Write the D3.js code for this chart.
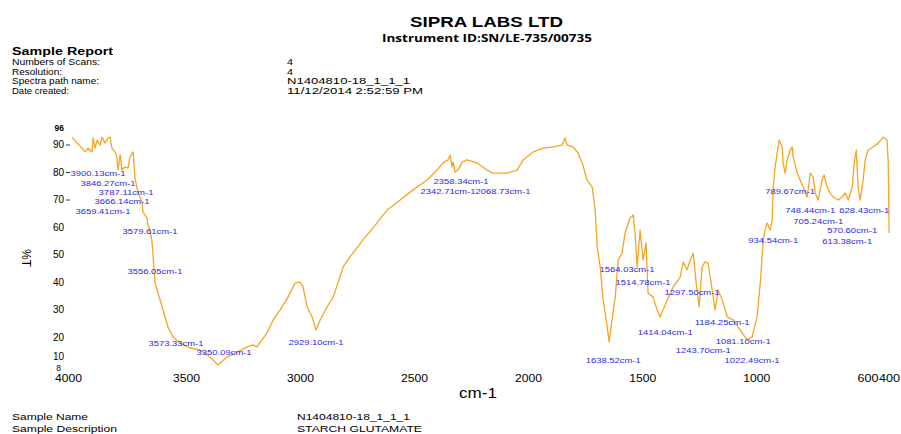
<!DOCTYPE html>
<html>
<head>
<meta charset="utf-8">
<script src="https://cdn.jsdelivr.net/npm/d3@7"></script>
<style>
  html, body { margin: 0; padding: 0; background: #fff; }
  svg { display: block; }
  text { font-family: "Liberation Sans", Arial, sans-serif; }
</style>
</head>
<body>
<svg id="chart" width="901" height="434"></svg>
<script>
// ---- data ----
const wavenumbers = [4000,3978,3956,3943,3930,3912,3908,3899,3890,3877,
  3868,3855,3842,3833,3825,3811,3803,3798,3789,3781,
  3768,3754,3746,3732,3724,3711,3693,3689,3671,3667,
  3658,3649,3645,3636,3623,3601,3579,3557,3526,3482,
  3439,3395,3360,3320,3276,3232,3206,3189,3145,3118,
  3088,3053,3022,3000,2987,2969,2947,2930,2912,2882,
  2855,2825,2811,2781,2724,2662,2618,2561,2504,2443,
  2399,2373,2351,2342,2333,2329,2320,2307,2289,2268,
  2224,2180,2154,2092,2048,2022,1978,1934,1890,1851,
  1838,1829,1803,1781,1763,1741,1719,1706,1697,1684,
  1671,1653,1645,1632,1618,1605,1588,1575,1553,1539,
  1531,1522,1509,1496,1483,1474,1452,1434,1421,1390,
  1364,1333,1320,1303,1289,1276,1263,1250,1237,1224,
  1211,1193,1180,1167,1149,1127,1101,1070,1039,1018,
  996,982,969,961,952,939,930,925,917,908,
  899,886,882,873,864,851,842,838,820,807,
  794,776,763,750,741,728,711,702,689,676,
  662,640,623,610,596,579,570,561,553,544,
  531,522,509,487,465,443,426,421,417];
const transmittance = [92.7,90.5,88.7,87.3,88.7,87.3,92.4,88.7,91.6,89.8,
  92.7,90.5,92.4,92.7,88.7,87.3,85.1,80.7,86.2,80.7,
  81.8,81.5,85.5,87.3,77.8,72.7,69.1,65.5,63.3,60.7,
  58.9,54.5,49.8,40.0,36.0,29.8,23.6,20.0,17.8,16.0,
  15.3,12.7,9.8,12.7,14.5,16.4,17.1,16.4,21.5,26.2,
  29.8,34.5,39.6,40.0,38.2,30.9,27.3,22.5,26.2,30.9,
  34.5,41.8,45.5,49.1,55.3,61.5,66.2,69.8,73.5,77.1,
  80.7,83.3,84.4,86.2,81.8,83.6,80.0,80.7,83.6,84.4,
  83.3,80.7,79.6,79.6,80.7,84.4,87.3,88.7,89.1,89.8,
  92.4,89.8,89.1,86.9,83.3,77.1,74.5,66.2,52.7,45.5,
  33.5,23.6,18.2,26.2,34.5,48.0,50.5,57.8,63.3,64.4,
  57.8,45.5,58.9,48.0,54.2,36.0,34.5,29.8,27.3,33.5,
  38.2,41.8,47.3,44.4,48.0,50.5,39.6,30.9,45.5,47.3,
  46.9,37.1,29.8,37.1,33.5,27.3,26.2,22.5,18.9,20.0,
  27.3,39.6,55.3,58.9,61.5,58.9,62.5,74.5,81.8,86.9,
  91.6,89.1,83.3,79.6,84.4,88.0,89.1,85.5,79.6,77.1,
  74.5,70.9,79.6,78.2,72.4,69.8,77.1,78.9,74.5,72.4,
  70.9,69.8,70.9,72.4,69.8,74.5,83.3,88.0,74.5,69.8,
  77.1,84.4,88.0,89.1,90.5,92.7,91.6,83.3,57.8];

const xTickValues = [4000,3500,3000,2500,2000,1500,1000,600,400];
const yTickValues = [8,10,20,30,40,50,60,70,80,90,96];

const peakLabels = ["3900.13cm-1","3846.27cm-1","3787.11cm-1","3666.14cm-1","3659.41cm-1",
  "3579.61cm-1","3556.05cm-1","3573.33cm-1","3350.09cm-1","2929.10cm-1",
  "2358.34cm-1","2342.71cm-1","2068.73cm-1","1638.52cm-1","1564.03cm-1",
  "1514.78cm-1","1297.50cm-1","1414.04cm-1","1184.25cm-1","1243.70cm-1",
  "1081.10cm-1","1022.49cm-1","934.54cm-1","789.67cm-1","748.44cm-1",
  "628.43cm-1","705.24cm-1","570.60cm-1","613.38cm-1"];
const peakLabelWn = [3886,3842,3763,3781,3864,3658,3636,3544,3333,2930,
  2294,2351,2110,1627,1566,1496,1281,1399,1149,1232,
  1057,1018,925,851,763,526,728,579,601];
const peakLabelT = [78.5,74.9,71.6,68.4,64.7,57.5,42.9,16.7,13.5,17.1,
  75.6,72.0,72.0,10.5,43.6,38.9,35.3,20.7,24.4,14.2,
  17.5,10.5,54.2,72.0,65.1,65.1,61.1,57.8,53.8];

const headerLabels = ["Numbers of Scans:","Resolution:","Spectra path name:","Date created:"];
const headerValues = ["4","4","N1404810-18_1_1_1","11/12/2014 2:52:59 PM"];
const footerLabels = ["Sample Name","Sample Description"];
const footerValues = ["N1404810-18_1_1_1","STARCH GLUTAMATE"];

// ---- drawing ----
const svg = d3.select("#chart");
const x = d3.scaleLinear().domain([4000, 400]).range([72, 893]);
const y = d3.scaleLinear().domain([8, 96]).range([370, 128]);

function txt(s, px, py, opts = {}) {
  const t = svg.append("text").attr("x", px).attr("y", py).text(s)
    .attr("font-size", opts.size || 9)
    .attr("font-weight", opts.bold ? "bold" : "normal")
    .attr("fill", opts.fill || "#000")
    .attr("text-anchor", opts.anchor || "start");
  if (opts.len) t.attr("textLength", opts.len).attr("lengthAdjust", "spacingAndGlyphs");
  if (opts.family) t.style("font-family", opts.family);
  return t;
}

// header
txt("SIPRA LABS LTD", 410, 27, {size: 14, bold: true, len: 153});
txt("Instrument ID:SN/LE-735/00735", 382, 42, {size: 10.5, bold: true, len: 210, family: "'Open Sans', 'Liberation Sans', sans-serif"});
txt("Sample Report", 12, 55, {size: 11, bold: true, len: 101});
const hLens = [88, 50, 87, 57];
const vLens = [6, 6, 123, 136];
headerLabels.forEach((s, i) => {
  txt(s, 12, 65 + i * 9.7, {size: 9, len: hLens[i]});
  txt(headerValues[i], 287, 65 + i * 9.7, {size: 9, len: vLens[i]});
});
const fLens = [76, 105];
const fvLens = [113, 125];
footerLabels.forEach((s, i) => {
  txt(s, 12, 420 + i * 11.5, {size: 9, len: fLens[i]});
  txt(footerValues[i], 297, 420 + i * 11.5, {size: 9, len: fvLens[i]});
});

// x axis (labels only)
const xAxis = d3.axisBottom(x).tickValues(xTickValues).tickSize(0).tickPadding(0)
  .tickFormat(d3.format("d"));
const gx = svg.append("g").attr("transform", "translate(0,374)").call(xAxis);
gx.select(".domain").remove();
gx.selectAll("text").attr("font-size", 11).attr("fill", "#000")
  .attr("lengthAdjust", "spacingAndGlyphs")
  .style("font-family", "'Liberation Sans', Arial, sans-serif")
  .attr("dy", "0.71em")
  .attr("dx", d => d === 600 ? 20 : (d === 400 ? -4 : (d === 4000 ? -4 : 0)))
  .attr("textLength", d => (d === 600 || d === 400) ? 21 : 27);

// y axis
const yAxis = d3.axisLeft(y).tickValues(yTickValues).tickSize(4).tickPadding(2)
  .tickFormat(d3.format("d"));
const gy = svg.append("g").attr("transform", "translate(70,0)").call(yAxis);
gy.select(".domain").remove();
gy.selectAll(".tick line").attr("stroke", "#000")
  .attr("stroke-width", 0.8)
  .attr("opacity", d => (d >= 70 && d <= 90) ? 1 : 0);
gy.selectAll("text").attr("font-size", d => (d === 8 || d === 96) ? 8.5 : 10)
  .attr("fill", "#000")
  .attr("font-weight", d => d === 96 ? "bold" : "normal")
  .style("font-family", "'Liberation Sans', Arial, sans-serif")
  .attr("dx", d => d === 8 ? -3 : 0)
  .attr("dy", d => d === 10 ? "-0.2em" : (d === 8 ? "0.1em" : "0.32em"))
  .attr("transform", d => d === 10 ? "translate(0,-3)" : null);

// axis titles
txt("%T", 0, 0, {size: 12, anchor: "middle"}).attr("transform", "translate(22,258) rotate(90)");
txt("cm-1", 478, 398, {size: 15, anchor: "middle", len: 38});

// spectrum
const pts = wavenumbers.map((w, i) => [w, transmittance[i]]);
const line = d3.line().x(d => x(d[0])).y(d => y(d[1])).curve(d3.curveLinear);
svg.append("path").datum(pts).attr("d", line)
  .attr("fill", "none").attr("stroke", "#F7A422").attr("stroke-width", 1.3)
  .attr("stroke-linejoin", "round");

// peak labels
svg.append("g").selectAll("text").data(peakLabels).join("text")
  .attr("x", (d, i) => x(peakLabelWn[i]))
  .attr("y", (d, i) => y(peakLabelT[i]))
  .attr("text-anchor", "middle")
  .attr("font-size", 7.5)
  .attr("fill", "#2a2ae6")
  .attr("textLength", d => d.length * 5)
  .attr("lengthAdjust", "spacingAndGlyphs")
  .text(d => d);
</script>
</body>
</html>
